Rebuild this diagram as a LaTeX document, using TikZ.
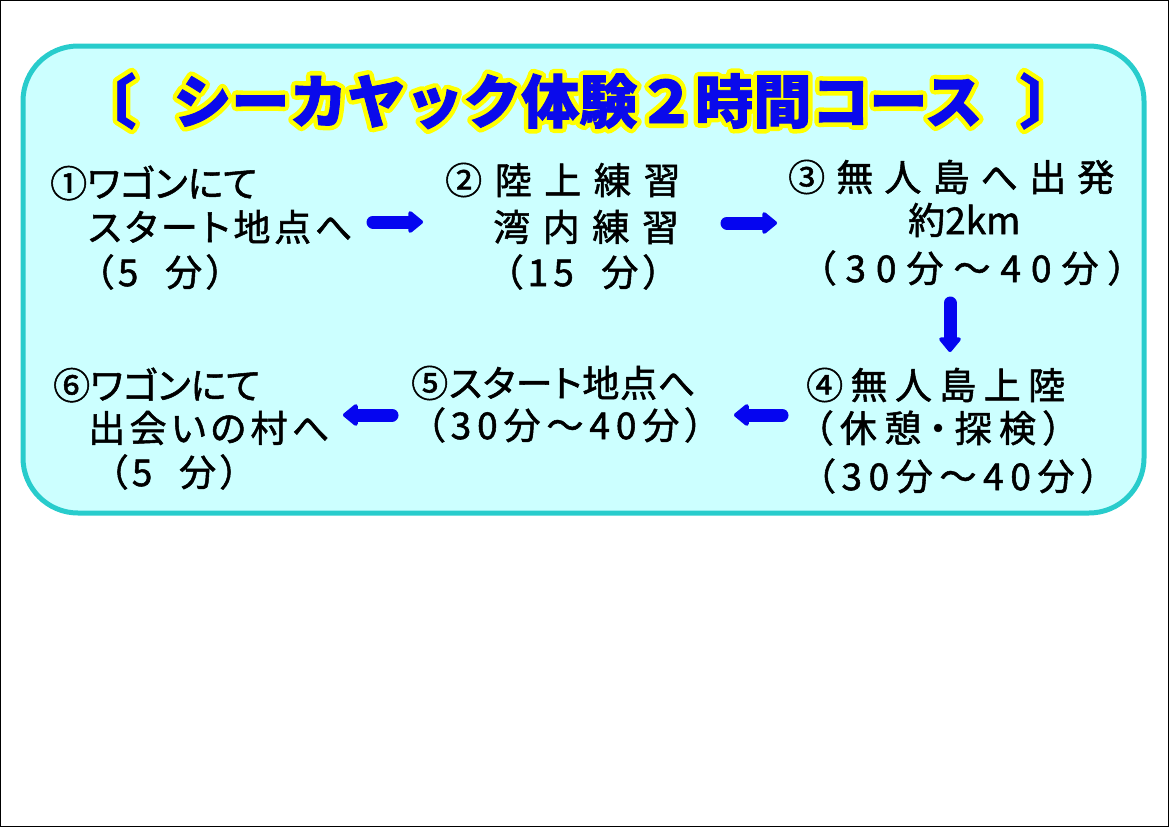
\documentclass[tikz,border=0pt]{standalone}
\usepackage{fontspec}
\newfontfamily\jpfont{Noto Sans CJK JP}[RawFeature=+palt]
\newfontfamily\jptitle{Noto Sans CJK JP}
\usetikzlibrary{arrows.meta}
\definecolor{boxfill}{RGB}{204,255,255}
\definecolor{boxline}{RGB}{40,204,204}
\definecolor{flowblue}{RGB}{5,5,240}
\definecolor{titleblue}{RGB}{10,10,235}
\definecolor{titleyellow}{RGB}{255,255,0}
\newcommand\ls[1]{\addfontfeature{LetterSpace=#1}}
\newcommand\yellowrim[1]{\special{pdf:code q 2 Tr 10 w 1 j}#1\special{pdf:code Q}}
\newcommand\titletext{〔 \hspace{24pt}シーカヤック体験２時間コース \hspace{24pt}〕}
\begin{document}
\begin{tikzpicture}[x=1pt,y=-1pt,
  txt/.style={inner sep=0pt, font=\jpfont\fontsize{37}{40}\selectfont\addfontfeature{FakeBold=1.4}, text=black},
  flow/.style={draw=flowblue, line width=13pt, line cap=round,
    -{Triangle[length=16pt,width=25pt,round,line width=4pt]}}]
\useasboundingbox (0,0) rectangle (1169,827);
\draw[line width=1.2pt] (0.6,0.6) rectangle (1168.4,826.4);
\draw[boxline, line width=5pt, fill=boxfill, rounded corners=55pt] (23,46) rectangle (1144,513);
% title
\node[inner sep=0pt, font=\jptitle\bfseries\fontsize{58}{62}\selectfont, text=titleblue] (title) at (578,101)
  {\rlap{\color{titleyellow}\yellowrim{\titletext}}{\addfontfeature{FakeBold=1.5}\titletext}};
% step 1
\node[txt, anchor=west] (s1a) at (50,183) {①ワゴンにて};
\node[txt, anchor=west] (s1b) at (88,227) {\ls{10}スタート地点へ};
\node[txt] (s1c) at (160,272) {\ls{12}（5 \hspace{14pt}分）};
% step 2
\node[txt, anchor=west] (s2a) at (445,180) {\ls{34}②陸上練習};
\node[txt, anchor=west] (s2b) at (493,227) {\ls{34}湾内練習};
\node[txt] (s2c) at (583,272) {\ls{14}（15 \hspace{14pt}分）};
% step 3
\node[txt, anchor=west] (s3a) at (788,177) {\ls{30}③無人島へ出発};
\node[txt, anchor=west] (s3b) at (908,220) {約2km};
\node[txt] (s3c) at (972,268) {\ls{27}（30分～40分）};
% step 4
\node[txt, anchor=west] (s4a) at (806,385) {\ls{20}④無人島上陸};
\node[txt] (s4b) at (938,428) {\ls{20}（休憩・探検）};
\node[txt] (s4c) at (958,476) {\ls{18}（30分～40分）};
% step 5
\node[txt, anchor=west] (s5a) at (411,383) {\ls{2}⑤スタート地点へ};
\node[txt] (s5b) at (565,425) {\ls{16}（30分～40分）};
% step 6
\node[txt, anchor=west] (s6a) at (53,385) {⑥ワゴンにて};
\node[txt, anchor=west] (s6b) at (88,428) {\ls{12}出会いの村へ};
\node[txt] (s6c) at (174,472) {\ls{12}（5 \hspace{14pt}分）};
% arrows
\draw[flow] ([shift={(285,-5)}]s1b.west) -- ([shift={(-70,-5)}]s2b.west);
\draw[flow] ([shift={(234,-4)}]s2b.west) -- ([shift={(-131,3)}]s3b.west);
\draw[flow] ([shift={(-22,35)}]s3c.center) -- ([shift={(144,-33)}]s4a.west);
\draw[flow] ([shift={(-24,30)}]s4a.west) -- ([shift={(169,-10)}]s5b.center);
\draw[flow] ([shift={(-173,-10)}]s5b.center) -- ([shift={(255,-13)}]s6b.west);
\end{tikzpicture}
\end{document}
